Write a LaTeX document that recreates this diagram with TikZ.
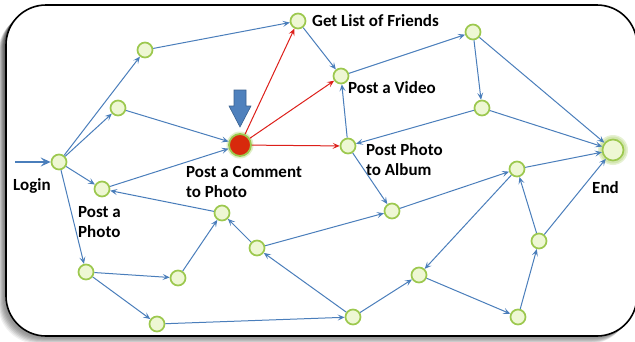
\documentclass[tikz,border=0pt]{standalone}
\usepackage{fontspec}
\setsansfont{Carlito}
\usetikzlibrary{arrows.meta}
\definecolor{dotfill}{HTML}{EEF7D4}
\definecolor{dotline}{HTML}{9CC84E}
\definecolor{edgeblue}{HTML}{4A7EBB}
\definecolor{edgered}{HTML}{DD1F1A}
\definecolor{hotred}{HTML}{D8290C}
\definecolor{blockblue}{HTML}{4F81BD}
\definecolor{blockedge}{HTML}{3A6190}
\definecolor{shade}{HTML}{3C3A48}
\tikzset{
  dot/.style={circle, draw=dotline, line width=1.7pt, fill=dotfill, minimum size=15pt, inner sep=0pt},
  flow/.style={draw=edgeblue, line width=1pt, -{Stealth[length=7pt, width=6pt, inset=3pt]}},
  hot/.style={draw=edgered, line width=1pt, -{Stealth[length=7pt, width=6pt, inset=3pt]}},
  lbl/.style={font=\sffamily\bfseries\fontsize{17}{20}\selectfont, align=left, inner sep=0pt, anchor=west}
}
\begin{document}
\begin{tikzpicture}[x=1pt, y=-1pt]
\useasboundingbox (0,0) rectangle (635,341);

% soft shadow of the frame, then the frame
\foreach \k/\o in {8/0.06, 7/0.08, 6/0.10, 5/0.12, 4/0.15, 3/0.18, 2/0.22}
  \fill[shade, opacity=\o, rounded corners=40pt] (6-\k,5+\k) rectangle (637-\k,336+\k);
\draw[fill=white, line width=1.6pt, rounded corners=40pt] (6,5) rectangle (637,336);

% nodes
\node[dot] (L)  at (59,162) {};
\node[dot] (A1) at (145,50) {};
\node[dot] (A2) at (118,108) {};
\node[dot] (G)  at (298,21) {};
\node[dot] (V)  at (341,76) {};
\node[dot] (T1) at (473,32) {};
\node[dot] (R1) at (482,108) {};
\node[dot] (PA) at (348,146) {};
\node[dot] (PP) at (102,189) {};
\node[dot] (B1) at (222,213) {};
\node[dot] (B2) at (257,248) {};
\node[dot] (B3) at (86,272) {};
\node[dot] (B4) at (178,278) {};
\node[dot] (B5) at (157,324) {};
\node[dot] (N1) at (392,211) {};
\node[dot] (N2) at (517,169) {};
\node[dot] (N3) at (419,275) {};
\node[dot] (N4) at (353,317) {};
\node[dot] (N5) at (518,317) {};
\node[dot] (N6) at (539,241) {};

% end node with its glow
\fill[dotline, opacity=0.25] (613,150) circle (15pt);
\fill[dotline, opacity=0.25] (613,150) circle (13.5pt);
\node[dot, minimum size=21pt] (E) at (613,150) {};

% highlighted comment node
\fill[dotline, opacity=0.3] (240,145) circle (13.5pt);
\node[circle, draw=dotline, line width=1.8pt, fill=hotred, minimum size=22pt, inner sep=0pt] (C) at (240,145) {};

% incoming login arrow
\coordinate (start) at (15,162);
\draw[draw=edgeblue, line width=2.4pt, -{Stealth[length=10pt, width=9pt, inset=4pt]}] (start) -- (L);

% pointer to the comment node
\draw[fill=blockblue, draw=blockedge, line width=0.6pt]
  (234,90) -- (246,90) -- (246,106) -- (251,106) -- (240,127) -- (229,106) -- (234,106) -- cycle;

% blue connectors
\draw[flow] (L) -- (A1);
\draw[flow] (L) -- (A2);
\draw[flow] (L) -- (PP);
\draw[flow] (L) -- (B3);
\draw[flow] (A1) -- (G);
\draw[flow] (A2) -- (C);
\draw[flow] (PP) -- (C);
\draw[flow] (B1) -- (PP);
\draw[flow] (B3) -- (B4);
\draw[flow] (B3) -- (B5);
\draw[flow] (B4) -- (B1);
\draw[flow] (B2) -- (B1);
\draw[flow] (B2) -- (N1);
\draw[flow] (B5) -- (N4);
\draw[flow] (N4) -- (B2);
\draw[flow] (N4) -- (N3);
\draw[flow] (N3) -- (N5);
\draw[flow] (N5) -- (N6);
\draw[flow] (N6) -- (N2);
\draw[flow] (N6) -- (E);
\draw[flow] (N2) -- (N3);
\draw[flow] (N1) -- (N2);
\draw[flow] (N2) -- (E);
\draw[flow] (PA) -- (N1);
\draw[flow] (PA) -- (V);
\draw[flow] (R1) -- (PA);
\draw[flow] (R1) -- (E);
\draw[flow] (T1) -- (R1);
\draw[flow] (T1) -- (E);
\draw[flow] (V) -- (T1);
\draw[flow] (G) -- (V);

% red connectors
\draw[hot] (C) -- (G);
\draw[hot] (C) -- (V);
\draw[hot] (C) -- (PA);

% labels
\node[lbl] (tG)  at (312,21)  {Get List of Friends};
\node[lbl] (tV)  at (348,88)  {Post a Video};
\node[lbl] (tPA) at (366,160) {Post Photo\\to Album};
\node[lbl] (tC)  at (186,182) {Post a Comment\\to Photo};
\node[lbl] (tL)  at (13,186)  {Login};
\node[lbl] (tPP) at (78,222)  {Post a\\Photo};
\node[lbl] (tE)  at (592,188) {End};
\end{tikzpicture}
\end{document}
